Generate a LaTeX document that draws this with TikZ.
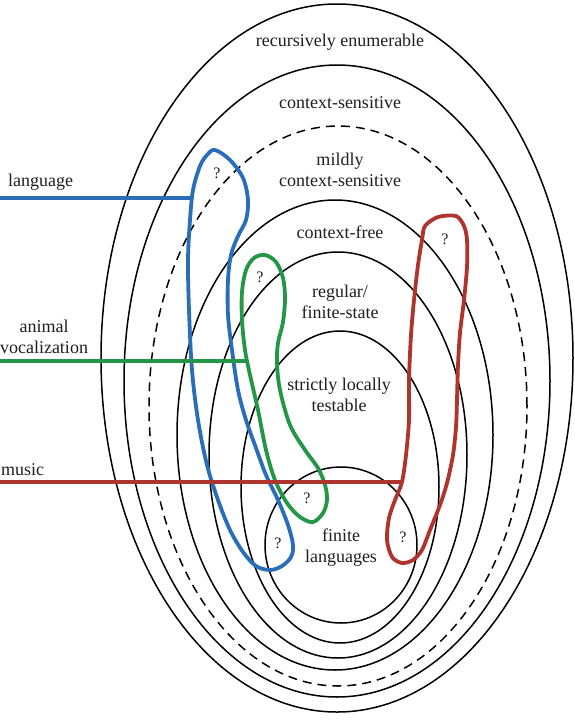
\documentclass[tikz,border=0pt]{standalone}
\usepackage{fontspec}
\setmainfont{Liberation Serif}
\definecolor{langblue}{RGB}{42,110,185}
\definecolor{vocgreen}{RGB}{36,150,72}
\definecolor{musred}{RGB}{175,52,46}
\begin{document}
\begin{tikzpicture}[x=1pt,y=-1pt,
  ring/.style={draw=black, line width=1.5pt},
  dashring/.style={draw=black, line width=1.5pt, dash pattern=on 9pt off 6pt},
  loopline/.style={line width=3.8pt, line join=round, line cap=round},
  cls/.style={font=\fontsize{18}{21}\selectfont, text=black!88, align=center, inner sep=0pt},
  lbl/.style={font=\fontsize{18}{21}\selectfont, text=black!88, align=center, inner sep=0pt},
  qm/.style={font=\fontsize{16}{18}\selectfont, text=black!88, inner sep=0pt}]
\useasboundingbox (0,0) rectangle (575,721);
\fill[white] (0,0) rectangle (575,721);

% nested language classes
\draw[ring] (337,358) ellipse [x radius=236pt, y radius=354pt];
\draw[ring] (337,381) ellipse [x radius=213pt, y radius=316pt];
\draw[dashring] (338,406) ellipse [x radius=189pt, y radius=280pt];
\draw[ring] (335,435) ellipse [x radius=158pt, y radius=235pt];
\draw[ring] (338,455) ellipse [x radius=129pt, y radius=203pt];
\draw[ring] (340,487) ellipse [x radius=99pt, y radius=156pt];
\draw[ring] (341,545) ellipse [x radius=76pt, y radius=78pt];

% class labels
\node[cls] (re) at (340,42) {recursively enumerable};
\node[cls] (cs) at (340,103) {context-sensitive};
\node[cls] (mcs) at (340,170) {mildly\\context-sensitive};
\node[cls] (cf) at (340,232) {context-free};
\node[cls] (reg) at (340,302) {regular/\\finite-state};
\node[cls] (slt) at (339,395) {strictly locally\\testable};
\node[cls] (fin) at (341,548) {finite\\languages};

% language (blue)
\draw[loopline, langblue] plot[smooth cycle, tension=0.55] coordinates {
 (215,150) (230,160) (243,178) (248,200) (246,220) (238,236) (231,255)
 (228,280) (228,315) (232,350) (238,390) (246,420) (256,448) (266,475)
 (278,500) (288,525) (293,545) (291,557) (282,566) (270,570) (256,566)
 (243,552) (230,530) (218,500) (207,465) (198,420) (192,370) (189,310)
 (188,260) (190,220) (193,190) (200,166) (207,155)};
% animal vocalization (green)
\draw[loopline, vocgreen] plot[smooth cycle, tension=0.55] coordinates {
 (265,255) (276,262) (283,278) (285,298) (283,322) (278,343) (277,363)
 (280,390) (290,425) (305,450) (318,468) (325,485) (327,500) (323,513)
 (313,522) (300,517) (287,503) (275,480) (266,450) (258,410) (250,375)
 (245,350) (242,320) (242,292) (246,270) (254,258)};
% music (red)
\draw[loopline, musred] plot[smooth cycle, tension=0.5] coordinates {
 (425,226) (438,217) (456,216) (464,226) (467,240) (467,267) (464,300)
 (460,333) (458,365) (457,400) (456,427) (453,455) (447,483) (440,505)
 (430,530) (422,550) (413,560) (402,563) (392,557) (387,540) (389,518)
 (395,500) (402,482) (406,455) (409,420) (409,380) (411,335) (414,300)
 (418,265) (422,240)};

% connector endpoints
\coordinate (langstart) at (0,198);
\coordinate (langjoin) at (192,198);
\coordinate (vocstart) at (0,361);
\coordinate (vocjoin) at (248,361);
\coordinate (musstart) at (0,482);
\coordinate (musjoin) at (402,482);
\draw[langblue, line width=3.8pt] (langstart) -- (langjoin);
\draw[vocgreen, line width=3.8pt] (vocstart) -- (vocjoin);
\draw[musred, line width=3.8pt] (musstart) -- (musjoin);

% side labels
\node[lbl, anchor=west] (langlbl) at (8,182) {language};
\node[lbl] (voclbl) at (44,337) {animal\\vocalization};
\node[lbl, anchor=west] (muslbl) at (1,470) {music};

% question marks
\node[qm] (q1) at (217,173) {?};
\node[qm] (q2) at (278,543) {?};
\node[qm] (q3) at (260,277) {?};
\node[qm] (q4) at (307,498) {?};
\node[qm] (q5) at (445,239) {?};
\node[qm] (q6) at (403,537) {?};
\end{tikzpicture}
\end{document}
